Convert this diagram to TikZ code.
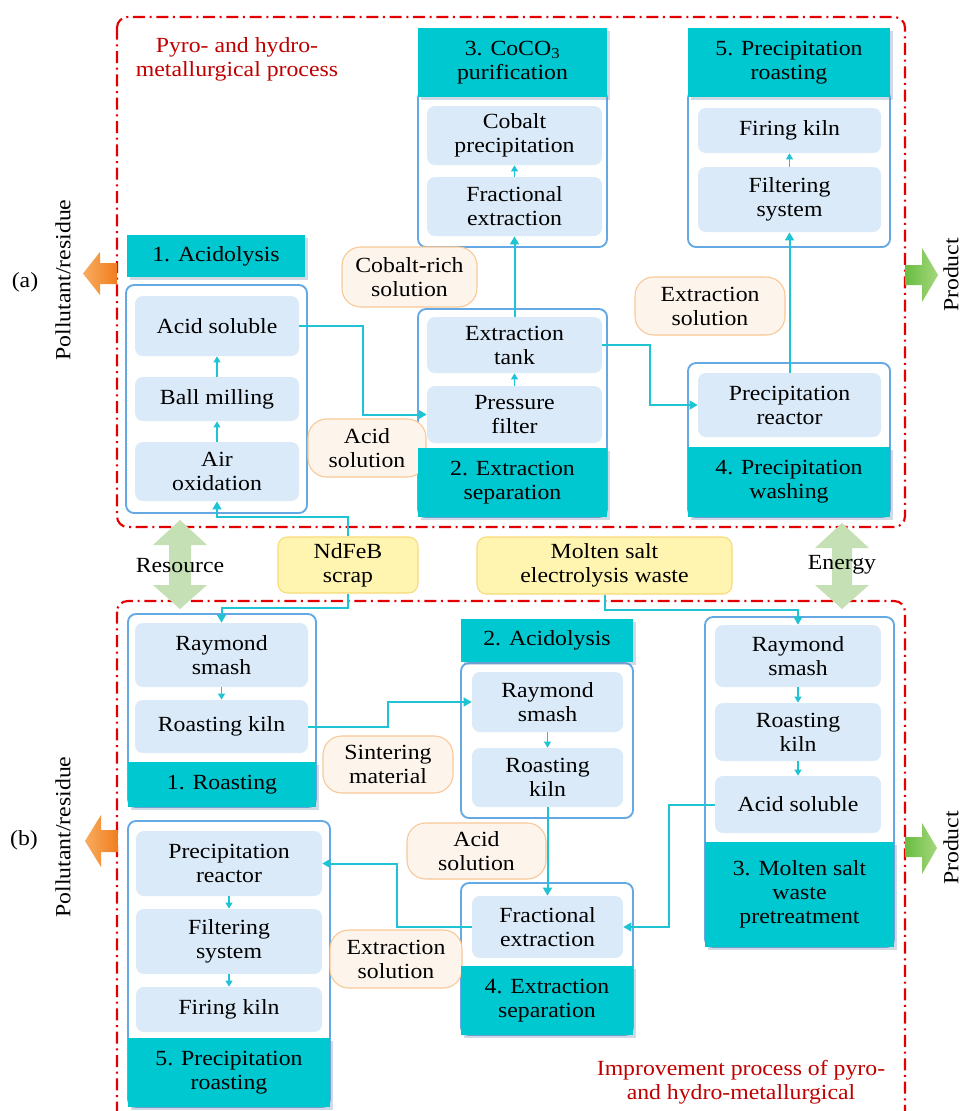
\documentclass[tikz,border=0pt]{standalone}
\usepackage{fontspec}
\setmainfont{Liberation Serif}[FakeStretch=1.1]
\usetikzlibrary{arrows.meta}
\definecolor{teal1}{RGB}{0,200,208}
\definecolor{contb}{RGB}{100,168,228}
\definecolor{innb}{RGB}{218,234,248}
\definecolor{peachf}{RGB}{253,244,236}
\definecolor{peachd}{RGB}{248,200,150}
\definecolor{yelf}{RGB}{255,244,176}
\definecolor{yeld}{RGB}{248,218,120}
\definecolor{conc}{RGB}{30,196,212}
\definecolor{redd}{RGB}{228,0,0}
\definecolor{redt}{RGB}{192,0,0}
\definecolor{dgreen}{RGB}{197,224,180}
\definecolor{orL}{RGB}{248,172,95}
\definecolor{orR}{RGB}{240,125,30}
\definecolor{grL}{RGB}{105,188,65}
\definecolor{grR}{RGB}{165,215,125}
\definecolor{shadc}{RGB}{120,150,180}
\newcommand{\bx}[7]{\node[#6, minimum width={(#4-#2)*0.75pt}, minimum height={(#5-#3)*0.75pt}] (#1) at ({(#2+#4)/2},{(#3+#5)/2}) {#7};}
\begin{document}
\begin{tikzpicture}[x=0.75pt,y=-0.75pt,
  every node/.style={font=\fontsize{16.2}{18}\selectfont, inner sep=0pt, align=center, text=black},
  reddash/.style={draw=redd, line width=1.6pt, dash pattern=on 9pt off 3.5pt on 1.5pt off 3.5pt},
  cont/.style={draw=contb, fill=white, line width=1.4pt, rounded corners=6pt},
  hdr/.style={fill=teal1, preaction={fill=shadc, opacity=0.35, transform canvas={shift={(2.5,2.5)}}}},
  inn/.style={fill=innb, rounded corners=6pt},
  lbl/.style={fill=peachf, draw=peachd, line width=0.8pt, rounded corners=14pt},
  srcb/.style={fill=yelf, draw=yeld, line width=0.8pt, rounded corners=7pt},
  conn/.style={draw=conc, line width=1.5pt, -{Triangle[length=6pt,width=6.5pt]}},
  sarr/.style={draw=conc, line width=1.3pt, -{Triangle[length=4.5pt,width=5pt]}},
  redtxt/.style={text=redt}
]
\useasboundingbox (0,0) rectangle (963,1111);
\fill[white] (0,0) rectangle (963,1111);
\clip (0,0) rectangle (963,1111);

% dashed regions
\draw[reddash, rounded corners=8pt] (117,17) rectangle (905,527);
\draw[reddash, rounded corners=8pt] (117,601) rectangle (905,1140);

% side arrows
\shade[left color=orL, right color=orR] (83,273.5) -- (100,252) -- (100,263) -- (117,263) -- (117,284) -- (100,284) -- (100,295) -- cycle;
\shade[left color=orL, right color=orR] (85,841) -- (101,815) -- (101,830) -- (118,830) -- (118,852) -- (101,852) -- (101,867) -- cycle;
\shade[left color=grL, right color=grR] (905,265) -- (922,265) -- (922,248) -- (938,275) -- (922,302) -- (922,285) -- (905,285) -- cycle;
\shade[left color=grL, right color=grR] (905,837) -- (922,837) -- (922,823) -- (937,848) -- (922,874) -- (922,857) -- (905,857) -- cycle;

% double arrows
\fill[dgreen] (180,520) -- (207,545) -- (191,545) -- (191,585) -- (207,585) -- (180,609) -- (153,585) -- (169,585) -- (169,545) -- (153,545) -- cycle;
\fill[dgreen] (842,523) -- (869,548) -- (852,548) -- (852,585) -- (869,585) -- (842,609) -- (815,585) -- (832,585) -- (832,548) -- (815,548) -- cycle;
\node (res) at (180,566) {Resource};
\node (ene) at (842,565) {Energy};

% side texts
\node (pa) at (25,282) {(a)};
\node (pb) at (24,840) {(b)};
\node[rotate=90] (pol1) at (63,280) {Pollutant/residue};
\node[rotate=90] (pol2) at (63,837) {Pollutant/residue};
\node[rotate=90] (pro1) at (951,275) {Product};
\node[rotate=90] (pro2) at (951,848) {Product};

% titles
\node[redtxt] (ta) at (237,59) {Pyro- and hydro-\\metallurgical process};
\node[redtxt] (tb) at (741,1082) {Improvement process of pyro-\\and hydro-metallurgical};

% ===== (a) =====
\bx{c1a}{126}{285}{307}{513}{cont}{}
\bx{c3a}{418}{90}{607}{247}{cont}{}
\bx{c5a}{688}{90}{890}{247}{cont}{}
\bx{c2a}{418}{309}{607}{517}{cont}{}
\bx{c4a}{688}{363}{890}{517}{cont}{}

\bx{cr}{342}{247}{477}{307}{lbl}{Cobalt-rich\\solution}
\bx{asl}{308}{419}{426}{477}{lbl}{Acid\\solution}
\bx{esl}{635}{277}{785}{335}{lbl}{Extraction\\solution}

\bx{h1a}{127}{235}{305}{277}{hdr}{1. Acidolysis}
\bx{h3a}{418}{28}{607}{97}{hdr}{3. CoCO\textsubscript{3}\\purification}
\bx{h5a}{688}{28}{890}{97}{hdr}{5. Precipitation\\roasting}
\bx{h2a}{418}{448}{607}{517}{hdr}{2. Extraction\\separation}
\bx{h4a}{688}{447}{890}{517}{hdr}{4. Precipitation\\washing}

\bx{as1a}{135}{296}{299}{356}{inn}{Acid soluble}
\bx{bm1a}{135}{377}{299}{421}{inn}{Ball milling}
\bx{ao1a}{135}{442}{299}{501}{inn}{Air\\oxidation}
\bx{cp3a}{427}{106}{602}{165}{inn}{Cobalt\\precipitation}
\bx{fe3a}{427}{177}{602}{236}{inn}{Fractional\\extraction}
\bx{fk5a}{698}{108}{881}{153}{inn}{Firing kiln}
\bx{fs5a}{698}{167}{881}{232}{inn}{Filtering\\system}
\bx{et2a}{427}{317}{602}{373}{inn}{Extraction\\tank}
\bx{pf2a}{427}{386}{602}{443}{inn}{Pressure\\filter}
\bx{pr4a}{698}{373}{881}{437}{inn}{Precipitation\\reactor}

\bx{nd}{278}{537}{418}{593}{srcb}{NdFeB\\scrap}
\bx{ms}{477}{537}{732}{594}{srcb}{Molten salt\\electrolysis waste}

% connectors (a)
\draw[sarr] (bm1a.north) -- (as1a.south);
\draw[sarr] (ao1a.north) -- (bm1a.south);
\draw[sarr] (fe3a.north) -- (cp3a.south);
\draw[sarr] (fs5a.north) -- (fk5a.south);
\draw[sarr] (pf2a.north) -- (et2a.south);
\draw[conn] (nd.north) -- ++(0,-19) -| (ao1a.south);
\draw[conn] (as1a.east) -- ++(64,0) |- (pf2a.west);
\draw[conn] (et2a.north) -- (fe3a.south);
\draw[conn] (et2a.east) -- ++(48,0) |- (pr4a.west);
\draw[conn] (pr4a.north) -- (fs5a.south);

% ===== (b) =====
\bx{c1b}{128}{614}{316}{807}{cont}{}
\bx{c2b}{461}{663}{633}{818}{cont}{}
\bx{c4b}{461}{883}{633}{1035}{cont}{}
\bx{c3b}{705}{617}{894}{947}{cont}{}
\bx{c5b}{128}{821}{330}{1107}{cont}{}

\bx{sml}{323}{736}{453}{793}{lbl}{Sintering\\material}
\bx{asl2}{407}{823}{546}{879}{lbl}{Acid\\solution}
\bx{esl2}{330}{930}{462}{988}{lbl}{Extraction\\solution}

\bx{h1b}{128}{762}{316}{807}{hdr}{1. Roasting}
\bx{h2b}{461}{619}{633}{662}{hdr}{2. Acidolysis}
\bx{h4b}{461}{966}{633}{1035}{hdr}{4. Extraction\\separation}
\bx{h3b}{705}{842}{894}{947}{hdr}{3. Molten salt\\waste\\pretreatment}
\bx{h5b}{128}{1038}{330}{1107}{hdr}{5. Precipitation\\roasting}

\bx{rs1b}{135}{623}{308}{687}{inn}{Raymond\\smash}
\bx{rk1b}{135}{700}{308}{753}{inn}{Roasting kiln}
\bx{rs2b}{472}{672}{623}{732}{inn}{Raymond\\smash}
\bx{rk2b}{472}{748}{623}{807}{inn}{Roasting\\kiln}
\bx{fe4b}{472}{896}{623}{958}{inn}{Fractional\\extraction}
\bx{rs3b}{715}{625}{881}{687}{inn}{Raymond\\smash}
\bx{rk3b}{715}{703}{881}{761}{inn}{Roasting\\kiln}
\bx{as3b}{715}{776}{881}{833}{inn}{Acid soluble}
\bx{pr5b}{136}{831}{322}{896}{inn}{Precipitation\\reactor}
\bx{fs5b}{136}{909}{322}{974}{inn}{Filtering\\system}
\bx{fk5b}{136}{987}{322}{1032}{inn}{Firing kiln}

% connectors (b)
\draw[sarr] (rs1b.south) -- (rk1b.north);
\draw[sarr] (rs2b.south) -- (rk2b.north);
\draw[sarr] (rs3b.south) -- (rk3b.north);
\draw[sarr] (rk3b.south) -- (as3b.north);
\draw[sarr] (pr5b.south) -- (fs5b.north);
\draw[sarr] (fs5b.south) -- (fk5b.north);
\draw[conn] (nd.south) -- ++(0,14) -| (rs1b.north);
\draw[conn] (ms.south) -- ++(0,15) -| (rs3b.north);
\draw[conn] (rk1b.east) -- ++(80,0) |- (rs2b.west);
\draw[conn] (rk2b.south) -- (fe4b.north);
\draw[conn] (as3b.west) -- ++(-46,0) |- (fe4b.east);
\draw[conn] (fe4b.west) -- ++(-75,0) |- (pr5b.east);
\end{tikzpicture}
\end{document}
